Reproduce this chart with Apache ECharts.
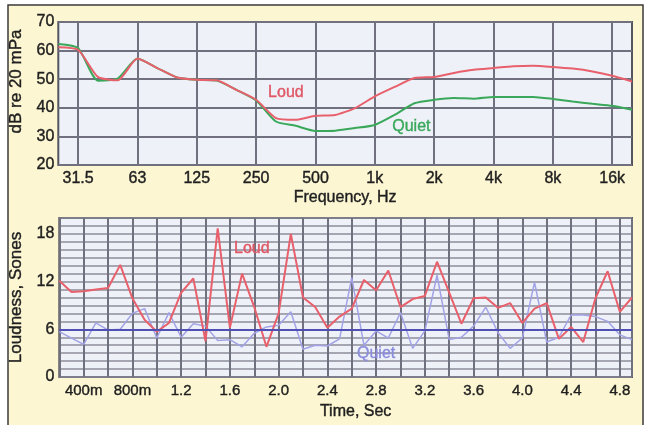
<!DOCTYPE html>
<html>
<head>
<meta charset="utf-8">
<script src="https://cdn.jsdelivr.net/npm/echarts@6/dist/echarts.min.js"></script>
<style>
html, body { margin: 0; padding: 0; background: #fff; }
#chart { width: 650px; height: 425px; }
</style>
</head>
<body>
<div id="chart"></div>
<script>
// 上图：1/3 倍频程频带 (Hz)
var bands = ['25', '31.5', '40', '50', '63', '80', '100', '125', '160', '200', '250', '315', '400', '500', '630',
    '800', '1k', '1.25k', '1.6k', '2k', '2.5k', '3.15k', '4k', '5k', '6.3k', '8k', '10k', '12.5k', '16k', '20k'];
// 只标注这些频带
var bandTicks = ['31.5', '63', '125', '250', '500', '1k', '2k', '4k', '8k', '16k'];
// 声压级 dB
var loudSpectrum = [61.2, 60.3, 50.8, 49.6, 57.2, 53.9, 50.6, 49.8, 49.6, 46.3, 42.8, 36.4, 35.8, 37.2, 37.5,
    39.9, 44.0, 47.3, 50.4, 50.8, 52.2, 53.3, 53.9, 54.5, 54.7, 54.3, 53.7, 52.7, 51.2, 49.2];
var quietSpectrum = [62.3, 60.9, 49.5, 50.2, 57.2, 53.9, 50.6, 49.8, 49.5, 46.3, 42.6, 35.2, 33.7, 31.9, 32.0,
    32.9, 34.0, 37.5, 41.6, 42.8, 43.4, 43.2, 43.8, 43.8, 43.8, 43.1, 42.2, 41.4, 40.7, 39.3];

// 下图：时间 (s) 与响度 (sones)
var times = [0.2, 0.3, 0.4, 0.5, 0.6, 0.7, 0.8, 0.9, 1.0, 1.1, 1.2, 1.3, 1.4, 1.5, 1.6, 1.7, 1.8, 1.9, 2.0, 2.1,
    2.2, 2.3, 2.4, 2.5, 2.6, 2.7, 2.8, 2.9, 3.0, 3.1, 3.2, 3.3, 3.4, 3.5, 3.6, 3.7, 3.8, 3.9, 4.0, 4.1,
    4.2, 4.3, 4.4, 4.5, 4.6, 4.7, 4.8, 4.9];
var loudSones = [12.1, 10.7, 10.8, 11.0, 11.2, 14.1, 9.9, 7.2, 5.7, 6.8, 10.6, 12.4, 4.5, 18.7, 6.2, 13.0, 8.8, 3.8, 8.0, 18.0,
    10.0, 8.8, 6.2, 7.6, 8.6, 12.2, 10.9, 13.4, 8.8, 9.8, 10.2, 14.5, 10.6, 6.7, 9.9, 10.0, 8.7, 9.3, 6.8, 8.6,
    9.3, 4.8, 6.3, 4.4, 9.9, 13.3, 8.2, 10.0];
var quietSones = [5.7, 4.9, 4.1, 6.8, 5.9, 6.0, 8.0, 8.6, 4.9, 8.1, 5.0, 6.7, 6.4, 4.6, 4.7, 3.8, 5.5, 6.3, 6.5, 8.2,
    3.5, 4.0, 3.9, 4.8, 12.5, 4.0, 5.8, 4.9, 8.1, 3.6, 5.8, 12.8, 4.7, 5.0, 6.4, 8.8, 5.6, 3.6, 4.9, 11.9,
    4.4, 5.0, 7.8, 7.8, 7.6, 7.0, 5.3, 4.7];
var quietLevel = 6;
// 下图 X 轴刻度文字
var timeTickValues = [0.4, 0.8, 1.2, 1.6, 2.0, 2.4, 2.8, 3.2, 3.6, 4.0, 4.4, 4.8];
var timeTickLabels = ['400m', '800m', '1.2', '1.6', '2.0', '2.4', '2.8', '3.2', '3.6', '4.0', '4.4', '4.8'];
var loudnessTicks = [0, 6, 12, 18];

var FONT = '"Liberation Sans", Arial, sans-serif';
var TEXT = '#1e1e1e';
var GRID_LINE = '#70707e';

// 文字稍微加粗一点
function txt(size, color) {
    return { color: color || TEXT, fontSize: size, fontFamily: FONT, textBorderColor: color || TEXT, textBorderWidth: 0.4 };
}
function pairs(xs, ys) {
    return xs.map(function (x, i) { return [x, ys[i]]; });
}
function isBandTick(i) {
    return bandTicks.indexOf(bands[i]) >= 0;
}
function tagLabel(text, color, offset) {
    var s = txt(16, color);
    s.show = true;
    s.position = 'inside';
    s.formatter = text;
    s.offset = offset || [0, 0];
    return s;
}

var chart = echarts.init(document.getElementById('chart'));

var option = {
    backgroundColor: '#fff',
    animation: false,
    // 外框
    graphic: [{
        type: 'rect',
        z: -10,
        shape: { x: 8, y: 5, width: 635, height: 440 },
        style: { fill: '#fcf6d3', stroke: '#3a3a3a', lineWidth: 1.5 }
    }],
    grid: [
        { left: 58, top: 22, right: 18, height: 143, show: true, backgroundColor: '#eef2f8', borderColor: '#55555f', borderWidth: 2 },
        { left: 58, top: 218, right: 18, height: 159, show: true, backgroundColor: '#eef2f8', borderColor: '#55555f', borderWidth: 2 }
    ],
    xAxis: [{
        gridIndex: 0,
        type: 'category',
        data: bands,
        boundaryGap: false,
        name: 'Frequency, Hz',
        nameLocation: 'middle',
        nameGap: 25,
        nameTextStyle: txt(16),
        axisLine: { show: false },
        axisTick: { show: false },
        axisLabel: Object.assign({ interval: isBandTick, margin: 6 }, txt(16)),
        splitLine: { show: true, interval: isBandTick, lineStyle: { color: GRID_LINE, width: 2 } }
    }, {
        gridIndex: 1,
        type: 'value',
        min: 0.2,
        max: 4.9,
        interval: 0.2,
        name: 'Time, Sec',
        nameLocation: 'middle',
        nameGap: 27,
        nameTextStyle: Object.assign(txt(16), { padding: [0, 0, 0, 20] }),
        axisLine: { show: false },
        axisTick: { show: false },
        axisLabel: Object.assign({
            margin: 6,
            formatter: function (v) {
                for (var i = 0; i < timeTickValues.length; i++) {
                    if (Math.abs(timeTickValues[i] - v) < 1e-6) return timeTickLabels[i];
                }
                return '';
            }
        }, txt(15)),
        splitLine: { show: true, lineStyle: { color: GRID_LINE, width: 2 } }
    }],
    yAxis: [{
        gridIndex: 0,
        type: 'value',
        min: 20,
        max: 70,
        interval: 10,
        name: 'dB re 20 mPa',
        nameLocation: 'middle',
        nameGap: 29,
        nameTextStyle: Object.assign(txt(17), { padding: [0, 0, 0, 24] }),
        axisLine: { show: false },
        axisTick: { show: false },
        axisLabel: Object.assign({ margin: 4 }, txt(16)),
        splitLine: { show: true, lineStyle: { color: GRID_LINE, width: 2 } }
    }, {
        gridIndex: 1,
        type: 'value',
        min: 0,
        max: 20,
        interval: 1,
        name: 'Loudness, Sones',
        nameLocation: 'middle',
        nameGap: 29,
        nameTextStyle: txt(17),
        axisLine: { show: false },
        axisTick: { show: false },
        axisLabel: Object.assign({
            margin: 5,
            formatter: function (v) { return loudnessTicks.indexOf(v) >= 0 ? String(v) : ''; }
        }, txt(16)),
        splitLine: { show: true, lineStyle: { color: '#8c8c9a', width: 1.5 } }
    }],
    series: [
        {
            name: 'Quiet',
            type: 'line',
            xAxisIndex: 0, yAxisIndex: 0,
            data: quietSpectrum,
            symbol: 'none',
            smooth: 0.2,
            lineStyle: { color: '#3aa85a', width: 2 },
            markPoint: {
                symbol: 'circle', symbolSize: 0,
                label: tagLabel('Quiet', '#3aa85a', [-3, 0]),
                data: [{ coord: ['1.6k', 33.3] }]
            }
        },
        {
            name: 'Loud',
            type: 'line',
            xAxisIndex: 0, yAxisIndex: 0,
            data: loudSpectrum,
            symbol: 'none',
            smooth: 0.2,
            lineStyle: { color: '#e8606c', width: 2 },
            markPoint: {
                symbol: 'circle', symbolSize: 0,
                label: tagLabel('Loud', '#e05866', [10, 0]),
                data: [{ coord: ['315', 45.3] }]
            }
        },
        {
            name: 'Quiet sones',
            type: 'line',
            xAxisIndex: 1, yAxisIndex: 1,
            data: pairs(times, quietSones),
            symbol: 'none',
            lineStyle: { color: '#a2a2e6', width: 1.5 },
            markLine: {
                silent: true,
                symbol: 'none',
                label: { show: false },
                lineStyle: { color: '#5050b4', width: 2, type: 'solid' },
                data: [{ yAxis: quietLevel }]
            },
            markPoint: {
                symbol: 'circle', symbolSize: 0,
                label: tagLabel('Quiet', '#8c8cdc'),
                data: [{ coord: [2.8, 2.9] }]
            }
        },
        {
            name: 'Loud sones',
            type: 'line',
            xAxisIndex: 1, yAxisIndex: 1,
            data: pairs(times, loudSones),
            symbol: 'none',
            lineStyle: { color: '#e8606c', width: 2 },
            markPoint: {
                symbol: 'circle', symbolSize: 0,
                label: tagLabel('Loud', '#e05866'),
                data: [{ coord: [1.78, 16.1] }]
            }
        }
    ]
};

chart.setOption(option);
</script>
</body>
</html>
